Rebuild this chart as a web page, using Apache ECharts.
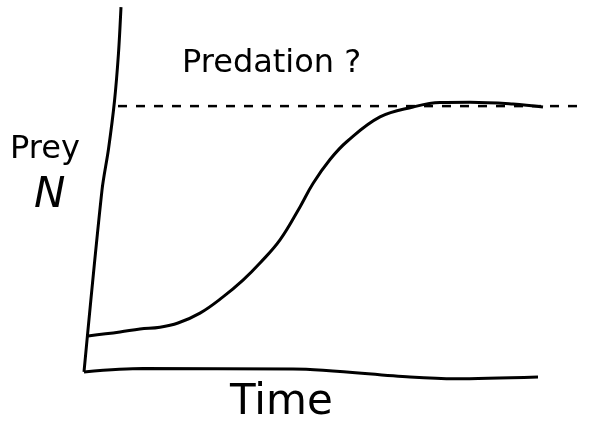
<!DOCTYPE html>
<html>
<head>
<meta charset="utf-8">
<script src="https://cdn.jsdelivr.net/npm/echarts@6/dist/echarts.min.js"></script>
<style>
  html, body { margin: 0; padding: 0; background: #fff; }
  #chart { width: 591px; height: 433px; }
</style>
</head>
<body>
<div id="chart"></div>
<script>
  // hand-drawn sketch, all points in data units (time 0-100, prey N)
  const preyCurve = [
    [1, 13.7], [7.4, 15], [11.4, 16], [15.4, 16.6], [19, 18], [23.4, 21.3],
    [28, 26.7], [32, 32.3], [35.4, 38], [39.4, 45.7], [43.4, 56.7], [46, 64.5],
    [49.4, 72.5], [52.8, 78.5], [59.4, 86.7], [66, 90], [71.4, 91.5], [77.4, 91.6],
    [86, 91], [92, 90]
  ]
  // the drawn axes are a bit crooked, so they are lines too
  const yAxisStroke = [[7.6, 123.3], [7.1, 108], [6.3, 92], [5.1, 76], [3.8, 62.3], [0.2, 1.7]]
  const xAxisStroke = [[0.2, 1.7], [12, 2.8], [42, 2.7], [65.4, 0], [74.4, -0.6], [91, 0]]
  const predationLevel = 90.3
  const predationSpan = [7, 99.8]

  const chart = echarts.init(document.getElementById('chart'))

  const ink = '#000'
  const font = 'DejaVu Sans'

  chart.setOption({
    backgroundColor: '#fff',
    animation: false,
    grid: { left: 83, right: 8, top: 2, bottom: 41 },
    xAxis: { type: 'value', min: 0, max: 100, show: false },
    yAxis: { type: 'value', min: -5, max: 125, show: false },
    graphic: [
      { type: 'text', left: 182, top: 48, style: { text: 'Predation ?', fill: ink, font: '32px "' + font + '"' } },
      { type: 'text', left: 10, top: 134, style: { text: 'Prey', fill: ink, font: '32px "' + font + '"' } },
      { type: 'text', left: 34, top: 175, style: { text: 'N', fill: ink, font: 'italic 42px "' + font + '"' } },
      { type: 'text', left: 230, top: 382, style: { text: 'Time', fill: ink, font: '42px "' + font + '"' } }
    ],
    series: [
      {
        name: 'y axis',
        type: 'line',
        smooth: 0.3,
        symbol: 'none',
        lineStyle: { color: ink, width: 3 },
        data: yAxisStroke
      },
      {
        name: 'x axis',
        type: 'line',
        smooth: 0.3,
        symbol: 'none',
        lineStyle: { color: ink, width: 3 },
        data: xAxisStroke
      },
      {
        name: 'predation',
        type: 'line',
        symbol: 'none',
        lineStyle: { color: ink, width: 2.5, type: [9, 9] },
        data: predationSpan.map(x => [x, predationLevel])
      },
      {
        name: 'prey',
        type: 'line',
        smooth: 0.4,
        symbol: 'none',
        lineStyle: { color: ink, width: 3 },
        data: preyCurve
      }
    ]
  })

  window.addEventListener('resize', () => {
    chart && chart.resize()
  })
</script>
</body>
</html>
